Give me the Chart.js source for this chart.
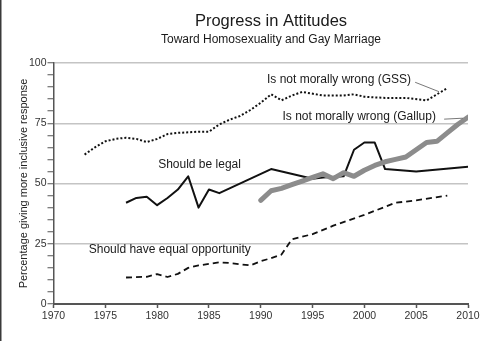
<!DOCTYPE html>
<html>
<head>
<meta charset="utf-8">
<script src="https://cdn.jsdelivr.net/npm/chart.js@4"></script>
<style>
  html, body { margin: 0; padding: 0; background: #fff; }
  #wrap { width: 499px; height: 341px; }
</style>
</head>
<body>
<div id="wrap"><canvas id="chart" width="499" height="341"></canvas></div>
<script>
// Survey series (percent giving the more inclusive answer)
const gssYears = [1973, 1974, 1975, 1976, 1977, 1978, 1979, 1980, 1981, 1982, 1984, 1985, 1986, 1987, 1988, 1989, 1990, 1991, 1992, 1993, 1994, 1996, 1998, 1999, 2000, 2002, 2004, 2006, 2008];
const gssValues = [62, 65, 67.5, 68.5, 69, 68.5, 67.2, 68.5, 70.5, 71, 71.5, 71.5, 74.5, 76.5, 78, 80.5, 83.5, 87, 84.5, 86.5, 88, 86.5, 86.5, 87, 86, 85.5, 85.5, 84.5, 89.5];

const legalYears = [1977, 1978, 1979, 1980, 1981, 1982, 1983, 1984, 1985, 1986, 1991, 1995, 1996, 1998, 1999, 2000, 2001, 2002, 2005, 2010];
const legalValues = [42, 44, 44.5, 41, 44, 47.5, 53, 40, 47.5, 46, 56, 52, 52.5, 53, 64, 67, 67, 56, 55, 57];

const gallupYears = [1990, 1991, 1992, 1993, 1994, 1995, 1996, 1997, 1998, 1999, 2000, 2001, 2002, 2003, 2004, 2005, 2006, 2007, 2008, 2009, 2010];
const gallupValues = [43, 47, 48, 49.5, 51, 52.5, 54, 52, 54.5, 53, 55.5, 57.5, 59, 60, 61, 64, 67, 67.5, 71, 74.5, 77.5];

const equalYears = [1977, 1979, 1980, 1981, 1982, 1983, 1984, 1986, 1987, 1989, 1990, 1991, 1992, 1993, 1995, 1997, 2000, 2003, 2005, 2008];
const equalValues = [11, 11.3, 12.4, 11.2, 12.5, 15, 16, 17.3, 17, 16, 17.8, 19, 20.5, 26.8, 29, 32.5, 37, 42, 43, 45];

const yearTicks = [1970, 1975, 1980, 1985, 1990, 1995, 2000, 2005, 2010];
const pctLabels = [0, 25, 50, 75, 100];

// Series labels placed in data units: [text, year, value, leader line or null]
const seriesLabels = [
  ['Is not morally wrong (GSS)', 1990.6, 93, [2004.9, 92, 2007.2, 88.1]],
  ['Is not morally wrong (Gallup)', 1992.1, 77.7, [2007.7, 76.7, 2009.5, 77.1]],
  ['Should be legal', 1980.1, 57.6, null],
  ['Should have equal opportunity', 1973.4, 22.7, null]
];

const FONT = '"Liberation Sans", Arial, sans-serif';
Chart.defaults.font.family = FONT;

function pts(xs, ys) {
  return xs.map((x, i) => ({ x: x, y: ys[i] }));
}

const annotate = {
  id: 'annotate',
  afterDraw(chart) {
    const ctx = chart.ctx;
    const xs = chart.scales.x, ys = chart.scales.y;
    ctx.save();

    // frame edge on the left
    ctx.fillStyle = '#3a3a3a';
    ctx.fillRect(0, 0, 1.5, chart.height);

    // headings
    ctx.fillStyle = '#1a1a1a';
    ctx.textAlign = 'center';
    ctx.textBaseline = 'middle';
    ctx.font = '16.5px ' + FONT;
    ctx.fillText('Progress in Attitudes', 271, 21);
    ctx.font = '12px ' + FONT;
    ctx.fillText('Toward Homosexuality and Gay Marriage', 271, 40);

    // series labels and leaders
    ctx.textAlign = 'left';
    ctx.font = '12px ' + FONT;
    seriesLabels.forEach(([text, yr, val, leader]) => {
      ctx.fillStyle = '#1a1a1a';
      ctx.fillText(text, xs.getPixelForValue(yr), ys.getPixelForValue(val));
      if (leader) {
        ctx.strokeStyle = '#555';
        ctx.lineWidth = 0.8;
        ctx.beginPath();
        ctx.moveTo(xs.getPixelForValue(leader[0]), ys.getPixelForValue(leader[1]));
        ctx.lineTo(xs.getPixelForValue(leader[2]), ys.getPixelForValue(leader[3]));
        ctx.stroke();
      }
    });
    ctx.restore();
  }
};

new Chart(document.getElementById('chart'), {
  type: 'line',
  data: {
    datasets: [
      {
        label: 'Is not morally wrong (GSS)',
        data: pts(gssYears, gssValues),
        borderColor: '#111',
        borderWidth: 2,
        borderDash: [2, 2],
        order: 3
      },
      {
        label: 'Should be legal',
        data: pts(legalYears, legalValues),
        borderColor: '#111',
        borderWidth: 2,
        order: 2
      },
      {
        label: 'Should have equal opportunity',
        data: pts(equalYears, equalValues),
        borderColor: '#111',
        borderWidth: 1.8,
        borderDash: [6, 4],
        order: 4
      },
      {
        label: 'Is not morally wrong (Gallup)',
        data: pts(gallupYears, gallupValues),
        borderColor: '#8c8c8c',
        borderWidth: 5,
        borderCapStyle: 'round',
        order: 1
      }
    ]
  },
  options: {
    responsive: false,
    animation: false,
    layout: { padding: { top: 63, right: 31, bottom: 0, left: 0 } },
    elements: {
      point: { radius: 0 },
      line: { tension: 0, borderJoinStyle: 'round', fill: false }
    },
    scales: {
      x: {
        type: 'linear',
        min: yearTicks[0],
        max: yearTicks[yearTicks.length - 1],
        afterBuildTicks(scale) {
          scale.ticks = yearTicks.map(v => ({ value: v }));
        },
        afterFit(scale) { scale.height = 37; },
        ticks: {
          callback: v => String(v),
          font: { size: 10.5 },
          color: '#333',
          padding: 2,
          maxRotation: 0
        },
        grid: {
          drawOnChartArea: false,
          tickLength: 4,
          tickColor: '#555',
          tickWidth: 1.5
        },
        border: { color: '#555', width: 2 }
      },
      y: {
        min: 0,
        max: 100,
        afterBuildTicks(scale) {
          const t = [];
          for (let v = 0; v <= 100; v += 5) t.push({ value: v });
          scale.ticks = t;
        },
        afterFit(scale) { scale.width = 53.5; },
        ticks: {
          callback: v => pctLabels.includes(v) ? String(v) : '',
          font: { size: 10.5 },
          color: '#333',
          padding: 1,
          autoSkip: false
        },
        grid: {
          color: c => (c.tick && c.tick.value > 0 && pctLabels.includes(c.tick.value)) ? '#c4c4c4' : 'rgba(0,0,0,0)',
          lineWidth: 1.5,
          tickColor: '#555',
          tickLength: 6,
          tickWidth: 1
        },
        border: { color: '#555', width: 1.5 },
        title: {
          display: true,
          text: 'Percentage giving more inclusive response',
          font: { size: 11 },
          color: '#222',
          padding: { top: 17.4, bottom: 0 }
        }
      }
    },
    plugins: {
      legend: { display: false },
      tooltip: { enabled: false }
    }
  },
  plugins: [annotate]
});
</script>
</body>
</html>
